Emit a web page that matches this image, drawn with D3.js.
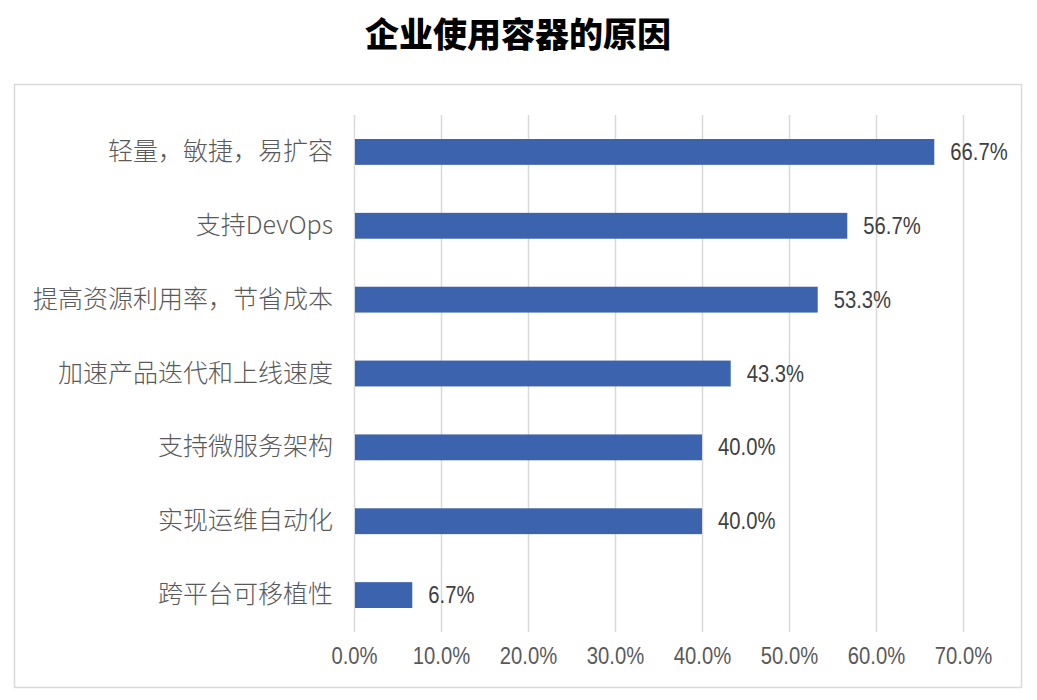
<!DOCTYPE html>
<html><head><meta charset="utf-8">
<script src="https://cdn.jsdelivr.net/npm/d3@7"></script>
<style>body{margin:0;background:#fff}</style>
</head><body>
<svg id="c" width="1037" height="700"></svg>
<script>
const title = "企业使用容器的原因";
const categories = ["轻量，敏捷，易扩容","支持DevOps","提高资源利用率，节省成本","加速产品迭代和上线速度","支持微服务架构","实现运维自动化","跨平台可移植性"];
const values = [66.7, 56.7, 53.3, 43.3, 40.0, 40.0, 6.7];
const tickValues = [0,10,20,30,40,50,60,70];

const svg = d3.select("#c");
svg.append("rect").attr("x",0).attr("y",0).attr("width",1037).attr("height",700).attr("fill","#fff");
svg.append("rect").attr("x",14.5).attr("y",84.5).attr("width",1007).attr("height",603)
  .attr("fill","none").attr("stroke","#d9d9d9").attr("stroke-width",1.5);

svg.append("text").attr("x",518).attr("y",47).attr("text-anchor","middle")
  .attr("font-family","'Noto Sans CJK SC', sans-serif").attr("font-weight",900)
  .attr("font-size",34).attr("fill","#000").text(title);

const x = d3.scaleLinear().domain([0,70]).range([354,963]);
const y = d3.scaleBand().domain(categories).range([115,632]).paddingInner(0.65).paddingOuter(0.325);

const grid = svg.append("g");
grid.selectAll("line").data(tickValues).join("line")
  .attr("x1",d=>x(d)+0.5).attr("x2",d=>x(d)+0.5).attr("y1",115).attr("y2",632)
  .attr("stroke","#d9d9d9").attr("stroke-width",1.5);

const numFont = "'Liberation Sans','Arial',sans-serif";
const xAxis = svg.append("g").attr("transform","translate(0,632)")
  .call(d3.axisBottom(x).tickValues(tickValues).tickSize(0).tickPadding(16).tickFormat(d=>d.toFixed(1)+"%"));
xAxis.select(".domain").remove();
xAxis.selectAll("text").attr("font-family",numFont)
  .attr("font-size",23).attr("fill","#595959").attr("transform","scale(0.88,1)");

svg.append("g").selectAll("rect").data(values).join("rect")
  .attr("x",x(0)+1).attr("y",(d,i)=>y(categories[i]))
  .attr("width",d=>x(d)-x(0)-1).attr("height",y.bandwidth()).attr("fill","#3c63ad");

const yAxis = svg.append("g").attr("transform","translate(354,0)")
  .call(d3.axisLeft(y).tickSize(0).tickPadding(21));
yAxis.select(".domain").remove();
yAxis.selectAll("text").attr("font-family","'Noto Sans CJK SC', sans-serif")
  .attr("font-size",25).attr("font-weight",300).attr("fill","#595959");

svg.append("g").selectAll("text").data(values).join("text")
  .attr("transform",(d,i)=>`translate(${x(d)+16},${y(categories[i])+y.bandwidth()/2}) scale(0.88,1)`)
  .attr("dy","0.35em")
  .attr("font-family",numFont)
  .attr("font-size",23).attr("fill","#404040").text(d=>d.toFixed(1)+"%");
</script>
</body></html>
